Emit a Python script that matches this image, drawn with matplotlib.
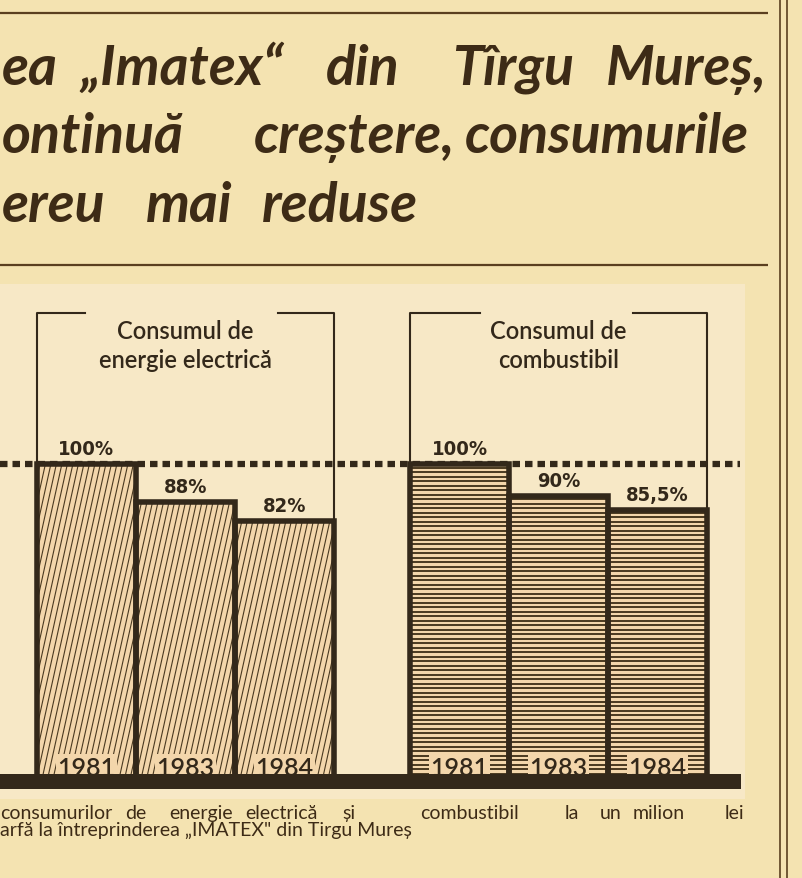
import numpy as np
import matplotlib.pyplot as plt
from matplotlib.patches import Rectangle
from matplotlib.collections import LineCollection

# values (index, 1981 = 100%)
years = ['1981', '1983', '1984']
electric = [100, 88, 82]
fuel = [100, 90, 85.5]
electric_txt = ['100%', '88%', '82%']
fuel_txt = ['100%', '90%', '85,5%']
panel_titles = ['Consumul de\nenergie electrică', 'Consumul de\ncombustibil']

# headline, cut on the left like the scan; (word, left x) per row
title_rows = [
    [('ea', 2), ('„Imatex“', 80), ('din', 326), ('Tîrgu', 452), ('Mureș,', 606)],
    [('ontinuă', 2), ('creștere,', 254), ('consumurile', 465)],
    [('ereu', 2), ('mai', 146), ('reduse', 262)],
]
title_base = [85, 153, 222]
caption_words = [('consumurilor', 0), ('de', 125), ('energie', 169), ('electrică', 245),
                 ('și', 342), ('combustibil', 420), ('la', 565), ('un', 600),
                 ('milion', 633), ('lei', 725)]
caption_line2 = 'arfă la întreprinderea „IMATEX" din Tirgu Mureș'

PAPER = '#f4e3b1'
PANEL = '#f7e8c6'
FACE = '#f3d6ab'
DARK = '#33281a'
INK = '#4a3920'
TITLE_INK = '#3d2b16'
RULE = '#5a3f1f'

W, H = 802, 879
BASE_Y = 782      # pixel row of 0 %
PX = 3.17         # pixels per percent
BW = 99           # bar width in px
group_left = [37, 410]
bracket_gap = [(85, 278), (480, 633)]
BRK = (BASE_Y - 314) / PX

fig = plt.figure(figsize=(W / 100, H / 100), dpi=100)
fig.patch.set_facecolor(PAPER)

# pixel overlay for rules and text
ov = fig.add_axes([0, 0, 1, 1])
ov.set_xlim(0, W)
ov.set_ylim(H, 0)
ov.axis('off')
ov.add_patch(Rectangle((0, 285), 745, 515, fc=PANEL, ec='none'))
ov.hlines([14, 266], 0, 768, color=RULE, lw=1.6)
ov.vlines([780, 787], 0, H, color=RULE, lw=1.2)

for row, yb in zip(title_rows, title_base):
    for word, x in row:
        ov.text(x, yb, word, fontsize=40, fontweight='bold', fontstyle='italic',
                family=['Lato', 'DejaVu Sans'], color=TITLE_INK, va='baseline')

for word, x in caption_words:
    ov.text(x, 819, word, fontsize=14, family=['Lato', 'DejaVu Sans'],
            color=TITLE_INK, va='baseline')
ov.text(0, 836, caption_line2, fontsize=14, family=['Lato', 'DejaVu Sans'],
        color=TITLE_INK, va='baseline')

# chart axes: x in px, y in percent
ax = fig.add_axes([0, 0, 1, 1])
ax.set_xlim(0, W)
ax.set_ylim((BASE_Y - H) / PX, BASE_Y / PX)
ax.axis('off')
ax.patch.set_alpha(0)

ax.hlines(100, 0, 740, colors=DARK, lw=4.5, linestyles=(0, (1.2, 0.8)), zorder=1)


def draw_group(g, values, labels, kind):
    x = group_left[g] + np.arange(len(values)) * BW
    faces = ax.bar(x, values, width=BW, align='edge', color=FACE, linewidth=0, zorder=2)
    for rect in faces:
        x0 = rect.get_x()
        if kind == 'diag':
            xs = np.arange(x0 - 80, x0 + BW + 5, 5.5)
            segs = [[(s, -3), (s + 74, 103)] for s in xs]
            lw = 0.8
        else:
            ys = np.arange(0.8, rect.get_height(), 1.42)
            segs = [[(x0, y), (x0 + BW, y)] for y in ys]
            lw = 1.4
        lc = LineCollection(segs, colors=INK, linewidths=lw, zorder=3)
        ax.add_collection(lc)
        lc.set_clip_path(rect)
    ax.bar(x, values, width=BW, align='edge', fill=False, edgecolor=DARK,
           linewidth=4, zorder=4)
    for xi, v, lab, yr in zip(x, values, labels, years):
        xc = xi + BW / 2
        ax.text(xc, v + 3.2, lab, ha='center', va='baseline', fontsize=14.5,
                fontweight='bold', fontstretch='condensed', family='DejaVu Sans',
                color=DARK, zorder=5)
        ax.text(xc, 1.9, yr, ha='center', va='baseline', fontsize=18,
                fontweight='semibold', family=['Lato', 'DejaVu Sans'], color=DARK,
                zorder=5, bbox=dict(facecolor=FACE, edgecolor='none', pad=1.0))
    # bracket round the panel title
    left, right = x[0], x[-1] + BW
    ax.plot([left, left, bracket_gap[g][0]], [values[0], BRK, BRK], color=DARK, lw=1.5, zorder=1)
    ax.plot([bracket_gap[g][1], right, right], [BRK, BRK, values[-1]], color=DARK, lw=1.5, zorder=1)
    ax.text((left + right) / 2, BRK - 2, panel_titles[g], ha='center', va='top',
            fontsize=17, fontweight='semibold', family=['Lato', 'DejaVu Sans'],
            color=DARK, linespacing=1.3)


draw_group(0, electric, electric_txt, 'diag')
draw_group(1, fuel, fuel_txt, 'horiz')

# ground strip
ax.add_patch(Rectangle((0, -2.5), 741, 4.7, fc=DARK, ec='none', zorder=6))

fig.savefig('out.png', dpi=100, facecolor=PAPER)
